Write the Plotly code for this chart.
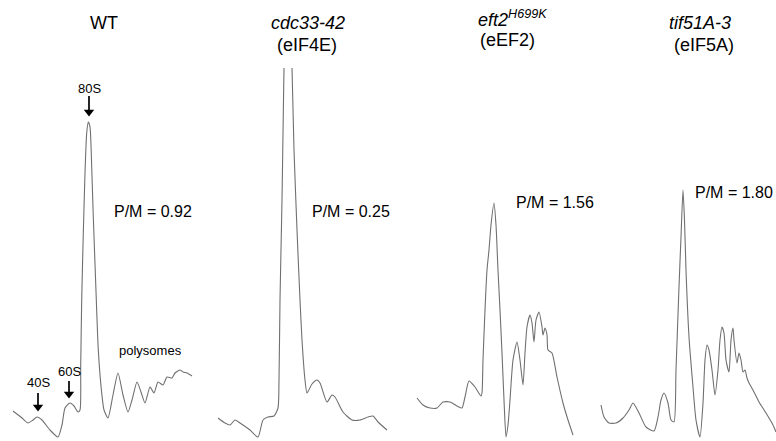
import plotly.graph_objects as go

# ---- traced profiles (pixel space of the original figure) ----
wt_x = [13, 22, 28, 33, 37, 42, 50, 58, 62, 65, 70, 74, 78, 80, 80.7, 81.7, 83.3, 85, 86.7, 88.3,
        90, 91.7, 93.3, 95.7, 98.3, 101.7, 104, 108, 113, 118, 123, 128, 132, 137, 141, 145, 150,
        154, 158, 163, 167, 172, 175, 180, 183, 187, 192]
wt_y = [411, 418, 423, 420, 417, 420, 430, 437, 425, 408, 403, 406, 412, 410, 367, 300, 233, 173, 133, 122,
        127, 167, 217, 283, 350, 393, 410, 418, 395, 373, 395, 412, 400, 382, 392, 403, 387,
        393, 382, 385, 377, 378, 373, 370, 372, 373, 376]

cdc_x = [218, 225, 230, 235, 240, 250, 258, 263, 268, 274, 278, 279, 280, 282, 283.5, 284, None,
         292, 294, 297, 300, 302, 305, 307, 312, 317, 320, 327, 332, 335, 343, 352, 360, 368, 373, 378, 387]
cdc_y = [418, 423, 425, 420, 423, 430, 437, 420, 417, 416, 408, 380, 300, 200, 100, 68, None,
         68, 150, 230, 300, 340, 380, 393, 384, 380, 383, 402, 395, 397, 412, 420, 420, 417, 416, 422, 430]

eft_x = [417, 423, 430, 437, 443, 450, 457, 462, 465, 469, 475, 481, 482, 483, 485, 487, 489, 491, 494,
         496, 498, 500, 502, 504, 506, 508, 510, 513, 517, 520, 523, 525, 527, 530, 532, 534, 536, 539,
         542, 543, 545, 547, 548, 552, 557, 563, 568, 573]
eft_y = [398, 405, 408, 408, 402, 402, 406, 408, 397, 381, 387, 396, 393, 360, 310, 270, 250, 225, 203,
         225, 270, 310, 353, 400, 437, 425, 400, 360, 342, 360, 385, 353, 327, 315, 323, 342, 320, 312,
         327, 335, 328, 335, 350, 353, 377, 403, 420, 435]

tif_x = [601, 604, 609, 616, 623, 629, 633, 639, 646, 654, 658, 661, 664, 668, 671, 674, 676, 679, 681, 683,
         684.5, 686, 689, 693, 696, 700, 703, 705, 707, 709, 712, 715, 718, 720, 722, 724, 726, 729, 731,
         733, 734, 737, 739, 741, 743, 745, 747, 749, 753, 759, 766, 773, 776]
tif_y = [405, 417, 423, 423, 418, 410, 403, 413, 427, 431, 417, 400, 393, 403, 420, 422, 370, 287, 237, 190,
         220, 270, 337, 387, 420, 437, 403, 360, 345, 350, 370, 395, 370, 340, 327, 333, 360, 372, 340,
         328, 340, 363, 353, 360, 372, 370, 378, 383, 390, 402, 413, 425, 432]

strains = ["WT", "<i>cdc33-42</i>", "<i>eft2<sup>H699K</sup></i>", "<i>tif51A-3</i>"]
proteins = ["", "(eIF4E)", "(eEF2)", "(eIF5A)"]
pm_labels = ["P/M = 0.92", "P/M = 0.25", "P/M = 1.56", "P/M = 1.80"]

# peak markers: name, x, label y, arrow start y, arrow tip y
peak_names = ["80S", "60S", "40S"]
peak_x = [89, 69, 38]
peak_label_y = [88, 371, 382]
peak_arrow_top = [96, 381, 393]
peak_arrow_tip = [116, 398, 411]

LINE = "#707070"
FONT = "Liberation Sans, Arial, sans-serif"

fig = go.Figure()
for xs, ys in [(wt_x, wt_y), (cdc_x, cdc_y), (eft_x, eft_y), (tif_x, tif_y)]:
    fig.add_trace(go.Scatter(x=xs, y=ys, mode="lines", connectgaps=False,
                             line=dict(color=LINE, width=1.1, shape="spline", smoothing=0.6),
                             hoverinfo="skip", showlegend=False))

# arrow shafts + heads
for px, y0, y1 in zip(peak_x, peak_arrow_top, peak_arrow_tip):
    fig.add_shape(type="line", x0=px, x1=px, y0=y0, y1=y1 - 5, xref="x", yref="y",
                  line=dict(color="black", width=1.7))
fig.add_trace(go.Scatter(x=peak_x, y=[t - 4 for t in peak_arrow_tip], mode="markers",
                         marker=dict(symbol="triangle-down", size=9, color="black", line=dict(width=0)),
                         hoverinfo="skip", showlegend=False))

ann = []
title_pos = [(104, 23), (308, 23), (512, 18), (700, 23)]
prot_pos = [(104, 45), (307, 45), (507, 40), (704, 45)]
for (tx, ty), s in zip(title_pos, strains):
    ann.append(dict(x=tx, y=ty, text=s, showarrow=False, font=dict(size=18, color="black", family=FONT)))
for (tx, ty), s in zip(prot_pos, proteins):
    if s:
        ann.append(dict(x=tx, y=ty, text=s, showarrow=False, font=dict(size=18, color="black", family=FONT)))
pm_pos = [(153, 211, "center"), (351, 211, "center"), (555, 202, "center"), (775, 192, "right")]
for (tx, ty, anc), s in zip(pm_pos, pm_labels):
    ann.append(dict(x=tx, y=ty, text=s, showarrow=False, xanchor=anc,
                    font=dict(size=16, color="black", family=FONT)))

for lab, px, ly in zip(peak_names, peak_x, peak_label_y):
    ann.append(dict(x=px, y=ly, text=lab, showarrow=False, font=dict(size=13, color="black", family=FONT)))
ann.append(dict(x=150, y=350, text="polysomes", showarrow=False, font=dict(size=13, color="black", family=FONT)))

fig.update_layout(
    width=776, height=441, margin=dict(l=0, r=0, t=0, b=0),
    paper_bgcolor="white", plot_bgcolor="white",
    xaxis=dict(range=[0, 776], visible=False, fixedrange=True),
    yaxis=dict(range=[441, 0], visible=False, fixedrange=True),
    annotations=ann,
)
fig.write_html("out.html", config={"displayModeBar": False, "staticPlot": True},
               post_script="document.body.style.margin='0';document.body.style.overflow='hidden';")
